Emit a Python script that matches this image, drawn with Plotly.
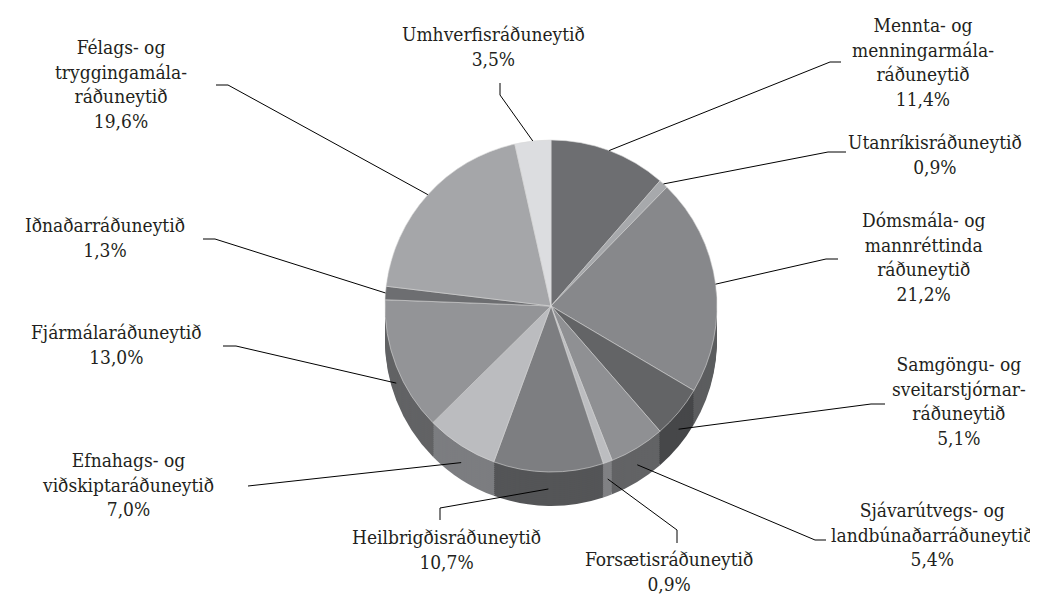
import math
import plotly.graph_objects as go

# ---- data ----
names = [
    "Mennta- og<br>menningarmála-<br>ráðuneytið",
    "Utanríkisráðuneytið",
    "Dómsmála- og<br>mannréttinda<br>ráðuneytið",
    "Samgöngu- og<br>sveitarstjórnar-<br>ráðuneytið",
    "Sjávarútvegs- og<br>landbúnaðarráðuneytið",
    "Forsætisráðuneytið",
    "Heilbrigðisráðuneytið",
    "Efnahags- og<br>viðskiptaráðuneytið",
    "Fjármálaráðuneytið",
    "Iðnaðarráðuneytið",
    "Félags- og<br>tryggingamála-<br>ráðuneytið",
    "Umhverfisráðuneytið",
]
values = [11.4, 0.9, 21.2, 5.1, 5.4, 0.9, 10.7, 7.0, 13.0, 1.3, 19.6, 3.5]

# ---- styles ----
top_colors = ["#6d6e71", "#a7a9ac", "#87888b", "#636466", "#8f9093", "#bcbdc0",
              "#7d7e81", "#bbbcbf", "#939497", "#6d6e71", "#a5a6a9", "#dcdde0"]
side_colors = ["#4a4b4d", "#727376", "#5c5d5f", "#464749", "#626365", "#808184",
               "#545557", "#7c7d80", "#626365", "#4a4b4d", "#707174", "#96979a"]

W, H = 1038, 595
CX, CY, R = 543, 298, 166
DEPTH, STEP = 34, 2
FONT = "DejaVu Serif Condensed, DejaVu Serif"
FONT_SIZE = 19

label_pos = [(915, 59), (927, 151), (915, 254), (951, 398), (924, 531), (661, 568),
             (438, 546), (120, 481), (108, 341), (97, 235), (113, 81), (485, 44)]
leader_start = [((833, 54), (822, 54)), ((838, 144), (820, 144)), ((830, 251), (818, 251)),
                ((877, 396), (863, 396)), ((818, 532), (807, 532)), ((669, 535), (669, 522)),
                ((432, 512), (432, 500)), ((240, 478), (240, 478)), ((215, 338), (228, 338)),
                ((195, 231), (207, 231)), ((208, 77), (220, 77)), ((492, 75), (492, 87))]
LABEL_SHIFT = -5


def px(x):
    return x / W


def py(y):
    return 1 - y / H


fig = go.Figure()
plain = [n.replace("<br>", " ") for n in names]

for d in range(DEPTH, 0, -STEP):
    fig.add_trace(go.Pie(
        values=values, labels=plain,
        sort=False, direction="clockwise", rotation=0,
        marker=dict(colors=side_colors, line=dict(width=0)),
        textinfo="none", hoverinfo="skip", showlegend=False,
        domain=dict(x=[px(CX - R), px(CX + R)], y=[py(CY + R + d), py(CY - R + d)]),
    ))

fig.add_trace(go.Pie(
    values=values, labels=plain,
    sort=False, direction="clockwise", rotation=0,
    marker=dict(colors=top_colors, line=dict(color="#d8d8d8", width=0.6)),
    textinfo="none", hoverinfo="label+percent", showlegend=False,
    domain=dict(x=[px(CX - R), px(CX + R)], y=[py(CY + R), py(CY - R)]),
))

total = sum(values)
cum = 0.0
shapes = []
annotations = []
for i, v in enumerate(values):
    mid = (cum + v / 2) / total * 2 * math.pi
    cum += v
    ex = CX + R * math.sin(mid)
    ey = CY - R * math.cos(mid)
    if math.cos(mid) < 0:
        ey += DEPTH * 0.5
    (sx, sy), (bx, by) = leader_start[i]
    path = f"M {px(sx)} {py(sy)} L {px(bx)} {py(by)} L {px(ex)} {py(ey)}"
    shapes.append(dict(type="path", xref="paper", yref="paper", path=path,
                       line=dict(color="black", width=1)))
    pct = f"{v:.1f}".replace(".", ",") + "%"
    lx, ly = label_pos[i]
    annotations.append(dict(
        x=px(lx), y=py(ly + LABEL_SHIFT), xref="paper", yref="paper",
        text=f"{names[i]}<br>{pct}", showarrow=False,
        xanchor="center", yanchor="middle", align="center",
        font=dict(family=FONT, size=FONT_SIZE, color="#231f20"),
    ))

fig.update_layout(
    width=W, height=H,
    margin=dict(l=0, r=0, t=0, b=0),
    paper_bgcolor="white", plot_bgcolor="white",
    font=dict(family=FONT),
    showlegend=False,
    shapes=shapes, annotations=annotations,
)

fig.write_html("out.html")
